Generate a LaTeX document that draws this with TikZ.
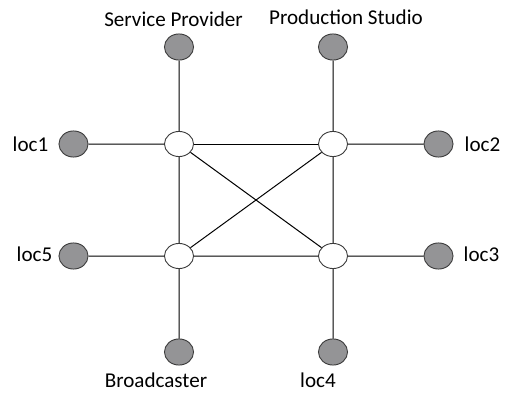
\documentclass[tikz,border=0pt]{standalone}
\usepackage{fontspec}
\setmainfont{Carlito}
\usepackage{tikz}
\usetikzlibrary{shapes.geometric}
\definecolor{sitegray}{RGB}{148,148,150}
\definecolor{rimgray}{RGB}{60,60,60}

\begin{document}
\begin{tikzpicture}[scale=0.35]
\tikzstyle{every node}+=[inner sep=0pt]
\tikzstyle{hub}=[ellipse, draw=rimgray, fill=white, line width=0.9pt, minimum width=29pt, minimum height=25pt]
\tikzstyle{site}=[ellipse, draw=rimgray, fill=sitegray, line width=0.9pt, minimum width=29pt, minimum height=26pt]
\tikzstyle{lbl}=[anchor=base, font=\fontsize{21}{25}\selectfont]
\useasboundingbox (0,0) rectangle (50.7,-39.3);
% core switches
\node [hub] (h1) at (17.9,-14.4) {};
\node [hub] (h2) at (33.3,-14.4) {};
\node [hub] (h3) at (33.3,-25.6) {};
\node [hub] (h5) at (17.9,-25.6) {};
% sites
\node [site] (sp) at (17.9,-4.7) {};
\node [site] (ps) at (33.3,-4.7) {};
\node [site] (l1) at (7.35,-14.4) {};
\node [site] (l2) at (43.85,-14.4) {};
\node [site] (l5) at (7.35,-25.6) {};
\node [site] (l3) at (43.85,-25.6) {};
\node [site] (bc) at (17.9,-35.2) {};
\node [site] (l4) at (33.3,-35.2) {};
% labels
\node [lbl] (tsp) at (17.35,-2.7) {Service Provider};
\node [lbl] (tps) at (34.6,-2.5) {Production Studio};
\node [lbl] (tl1) at (3.05,-15.2) {loc1};
\node [lbl] (tl2) at (48.25,-15.2) {loc2};
\node [lbl] (tl5) at (3.45,-26.2) {loc5};
\node [lbl] (tl3) at (48.15,-26.2) {loc3};
\node [lbl] (tbc) at (15.6,-38.75) {Broadcaster};
\node [lbl] (tl4) at (31.8,-38.75) {loc4};
% links
\draw [black, line width=1pt] (h1) -- (h2);
\draw [black, line width=1pt] (h5) -- (h3);
\draw [black, line width=1pt] (h1) -- (h5);
\draw [black, line width=1pt] (h2) -- (h3);
\draw [black, line width=1pt] (h1) -- (h3);
\draw [black, line width=1pt] (h2) -- (h5);
\draw [black, line width=1pt] (sp) -- (h1);
\draw [black, line width=1pt] (ps) -- (h2);
\draw [black, line width=1pt] (l1) -- (h1);
\draw [black, line width=1pt] (l2) -- (h2);
\draw [black, line width=1pt] (l5) -- (h5);
\draw [black, line width=1pt] (l3) -- (h3);
\draw [black, line width=1pt] (bc) -- (h5);
\draw [black, line width=1pt] (l4) -- (h3);
\end{tikzpicture}
\end{document}
